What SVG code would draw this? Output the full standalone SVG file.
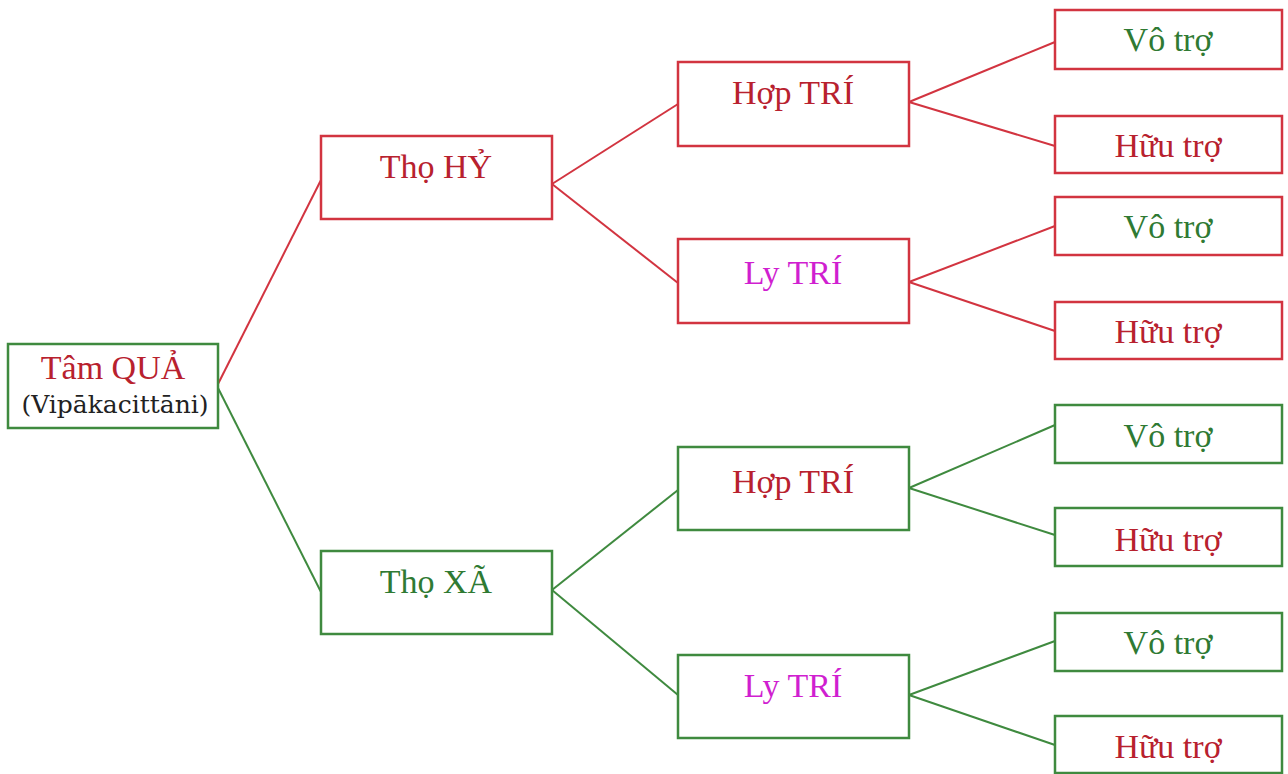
<svg xmlns="http://www.w3.org/2000/svg" width="1288" height="774" viewBox="0 0 1288 774">
<style>
.r{fill:#fff;stroke:#d23440;stroke-width:2.5}
.g{fill:#fff;stroke:#3f8a3f;stroke-width:2.5}
.lr{stroke:#d23440;stroke-width:2;fill:none}
.lg{stroke:#3f8a3f;stroke-width:2;fill:none}
text{font-family:"Liberation Serif","DejaVu Serif","Times New Roman",serif;text-anchor:middle;font-size:34px}
.tr{fill:#b8212e}
.tg{fill:#2f7a33}
.tm{fill:#d01fd0}
.tk{fill:#222;font-family:"DejaVu Serif",serif;font-size:25px}
</style>
<rect width="1288" height="774" fill="#fff"/>
<g id="connectors">
<line class="lr" x1="218" y1="384" x2="321" y2="180"/>
<line class="lg" x1="218" y1="388" x2="321" y2="592"/>
<line class="lr" x1="552" y1="184" x2="678" y2="104"/>
<line class="lr" x1="552" y1="184" x2="678" y2="283"/>
<line class="lg" x1="552" y1="590" x2="678" y2="490"/>
<line class="lg" x1="552" y1="590" x2="678" y2="695"/>
<line class="lr" x1="909" y1="102" x2="1055" y2="42"/>
<line class="lr" x1="909" y1="102" x2="1055" y2="146"/>
<line class="lr" x1="909" y1="282" x2="1055" y2="226"/>
<line class="lr" x1="909" y1="282" x2="1055" y2="331"/>
<line class="lg" x1="909" y1="488" x2="1055" y2="425"/>
<line class="lg" x1="909" y1="488" x2="1055" y2="535"/>
<line class="lg" x1="909" y1="695" x2="1055" y2="641"/>
<line class="lg" x1="909" y1="695" x2="1055" y2="745"/>
</g>
<g id="root"><rect class="g" x="8" y="344" width="210" height="84"/><text class="tr" x="113" y="379" font-size="31">Tâm QUẢ</text><text class="tk" x="115" y="413">(Vip&#x101;kacitt&#x101;ni)</text></g>
<g id="tho-hy"><rect class="r" x="321" y="136" width="231" height="83"/><text class="tr" x="436" y="178">Thọ HỶ</text></g>
<g id="tho-xa"><rect class="g" x="321" y="551" width="231" height="83"/><text class="tg" x="436" y="593">Thọ XÃ</text></g>
<g id="hop-tri-1"><rect class="r" x="678" y="62" width="231" height="84"/><text class="tr" x="793" y="104">Hợp TRÍ</text></g>
<g id="ly-tri-1"><rect class="r" x="678" y="239" width="231" height="84"/><text class="tm" x="793" y="284">Ly TRÍ</text></g>
<g id="hop-tri-2"><rect class="g" x="678" y="447" width="231" height="83"/><text class="tr" x="793" y="493">Hợp TRÍ</text></g>
<g id="ly-tri-2"><rect class="g" x="678" y="655" width="231" height="83"/><text class="tm" x="793" y="697">Ly TRÍ</text></g>
<g id="leaf1"><rect class="r" x="1055" y="10" width="227" height="59"/><text class="tg" x="1168" y="51">Vô trợ</text></g>
<g id="leaf2"><rect class="r" x="1055" y="116" width="227" height="57"/><text class="tr" x="1168" y="157">Hữu trợ</text></g>
<g id="leaf3"><rect class="r" x="1055" y="197" width="227" height="58"/><text class="tg" x="1168" y="238">Vô trợ</text></g>
<g id="leaf4"><rect class="r" x="1055" y="302" width="227" height="57"/><text class="tr" x="1168" y="343">Hữu trợ</text></g>
<g id="leaf5"><rect class="g" x="1055" y="405" width="227" height="58"/><text class="tg" x="1168" y="447">Vô trợ</text></g>
<g id="leaf6"><rect class="g" x="1055" y="508" width="227" height="58"/><text class="tr" x="1168" y="551">Hữu trợ</text></g>
<g id="leaf7"><rect class="g" x="1055" y="613" width="227" height="58"/><text class="tg" x="1168" y="654">Vô trợ</text></g>
<g id="leaf8"><rect class="g" x="1055" y="716" width="227" height="57"/><text class="tr" x="1168" y="758">Hữu trợ</text></g>
</svg>
